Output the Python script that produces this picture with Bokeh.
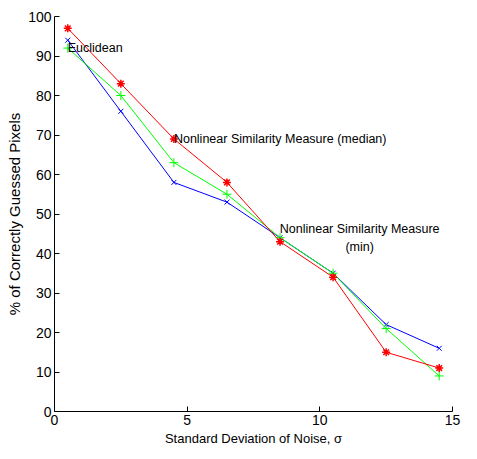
from bokeh.plotting import figure
from bokeh.models import Range1d, FixedTicker, ColumnDataSource
from bokeh.core.properties import value
from bokeh.embed import file_html
from bokeh.resources import INLINE

sigma = [0.5, 2.5, 4.5, 6.5, 8.5, 10.5, 12.5, 14.5]
median_vals = [97, 83, 69, 58, 43, 34, 15, 11]
euclid_vals = [92, 80, 63, 55, 44, 35, 21, 9]
min_vals = [94, 76, 58, 53, 44, 35, 22, 16]
x_ticks = [0, 5, 10, 15]
y_ticks = [0, 10, 20, 30, 40, 50, 60, 70, 80, 90, 100]

labels_x = [0.5, 4.5, 11.5]
labels_y = [92, 69, 44]
labels_text = ["Euclidean", "Nonlinear Similarity Measure (median)", "Nonlinear Similarity Measure\n(min)"]
labels_align = ["left", "left", "center"]

REG = "Liberation Sans"

p = figure(width=469, height=451, output_backend="svg", toolbar_location=None,
           x_range=Range1d(0, 15), y_range=Range1d(0, 100),
           min_border_left=54, min_border_right=17, min_border_top=16, min_border_bottom=40)
p.outline_line_color = None
p.grid.visible = False
p.background_fill_color = "white"
p.border_fill_color = "white"

src = ColumnDataSource(dict(x=sigma, med=median_vals, euc=euclid_vals, mn=min_vals))
p.line("x", "mn", source=src, color="blue", line_width=1)
p.scatter("x", "mn", source=src, marker="x", size=7, color="blue", line_width=1)
p.line("x", "euc", source=src, color="#00ff00", line_width=1)
p.scatter("x", "euc", source=src, marker="cross", size=9, color="#00ff00", line_width=1)
p.line("x", "med", source=src, color="red", line_width=1)
p.scatter("x", "med", source=src, marker="asterisk", size=8, color="red", line_width=1.5)

lsrc = ColumnDataSource(dict(x=labels_x, y=labels_y, t=labels_text, a=labels_align))
p.text("x", "y", text="t", source=lsrc, text_align="a", text_baseline="middle",
       text_font=value(REG), text_font_size="12.5px", text_color="black",
       text_line_height=1.3)

for ax in (p.xaxis[0], p.yaxis[0]):
    ax.axis_line_color = "black"
    ax.axis_line_width = 1
    ax.major_tick_in = 5
    ax.major_tick_out = 0
    ax.minor_tick_line_color = None
    ax.major_label_text_font = REG
    ax.major_label_text_font_size = "14px"
    ax.major_label_text_color = "black"
    ax.axis_label_text_font = REG
    ax.axis_label_text_font_style = "normal"
    ax.axis_label_text_color = "black"

p.xaxis.axis_label_text_font_size = "13px"
p.yaxis.axis_label_text_font_size = "15px"
p.xaxis.ticker = FixedTicker(ticks=x_ticks)
p.yaxis.ticker = FixedTicker(ticks=y_ticks)
p.xaxis.axis_label = "Standard Deviation of Noise, σ"
p.yaxis.axis_label = "% of Correctly Guessed Pixels"
p.xaxis.major_label_standoff = 3
p.yaxis.major_label_standoff = 3
p.xaxis.axis_label_standoff = 3
p.yaxis.axis_label_standoff = 2

open("out.html", "w").write(file_html(p, INLINE))
